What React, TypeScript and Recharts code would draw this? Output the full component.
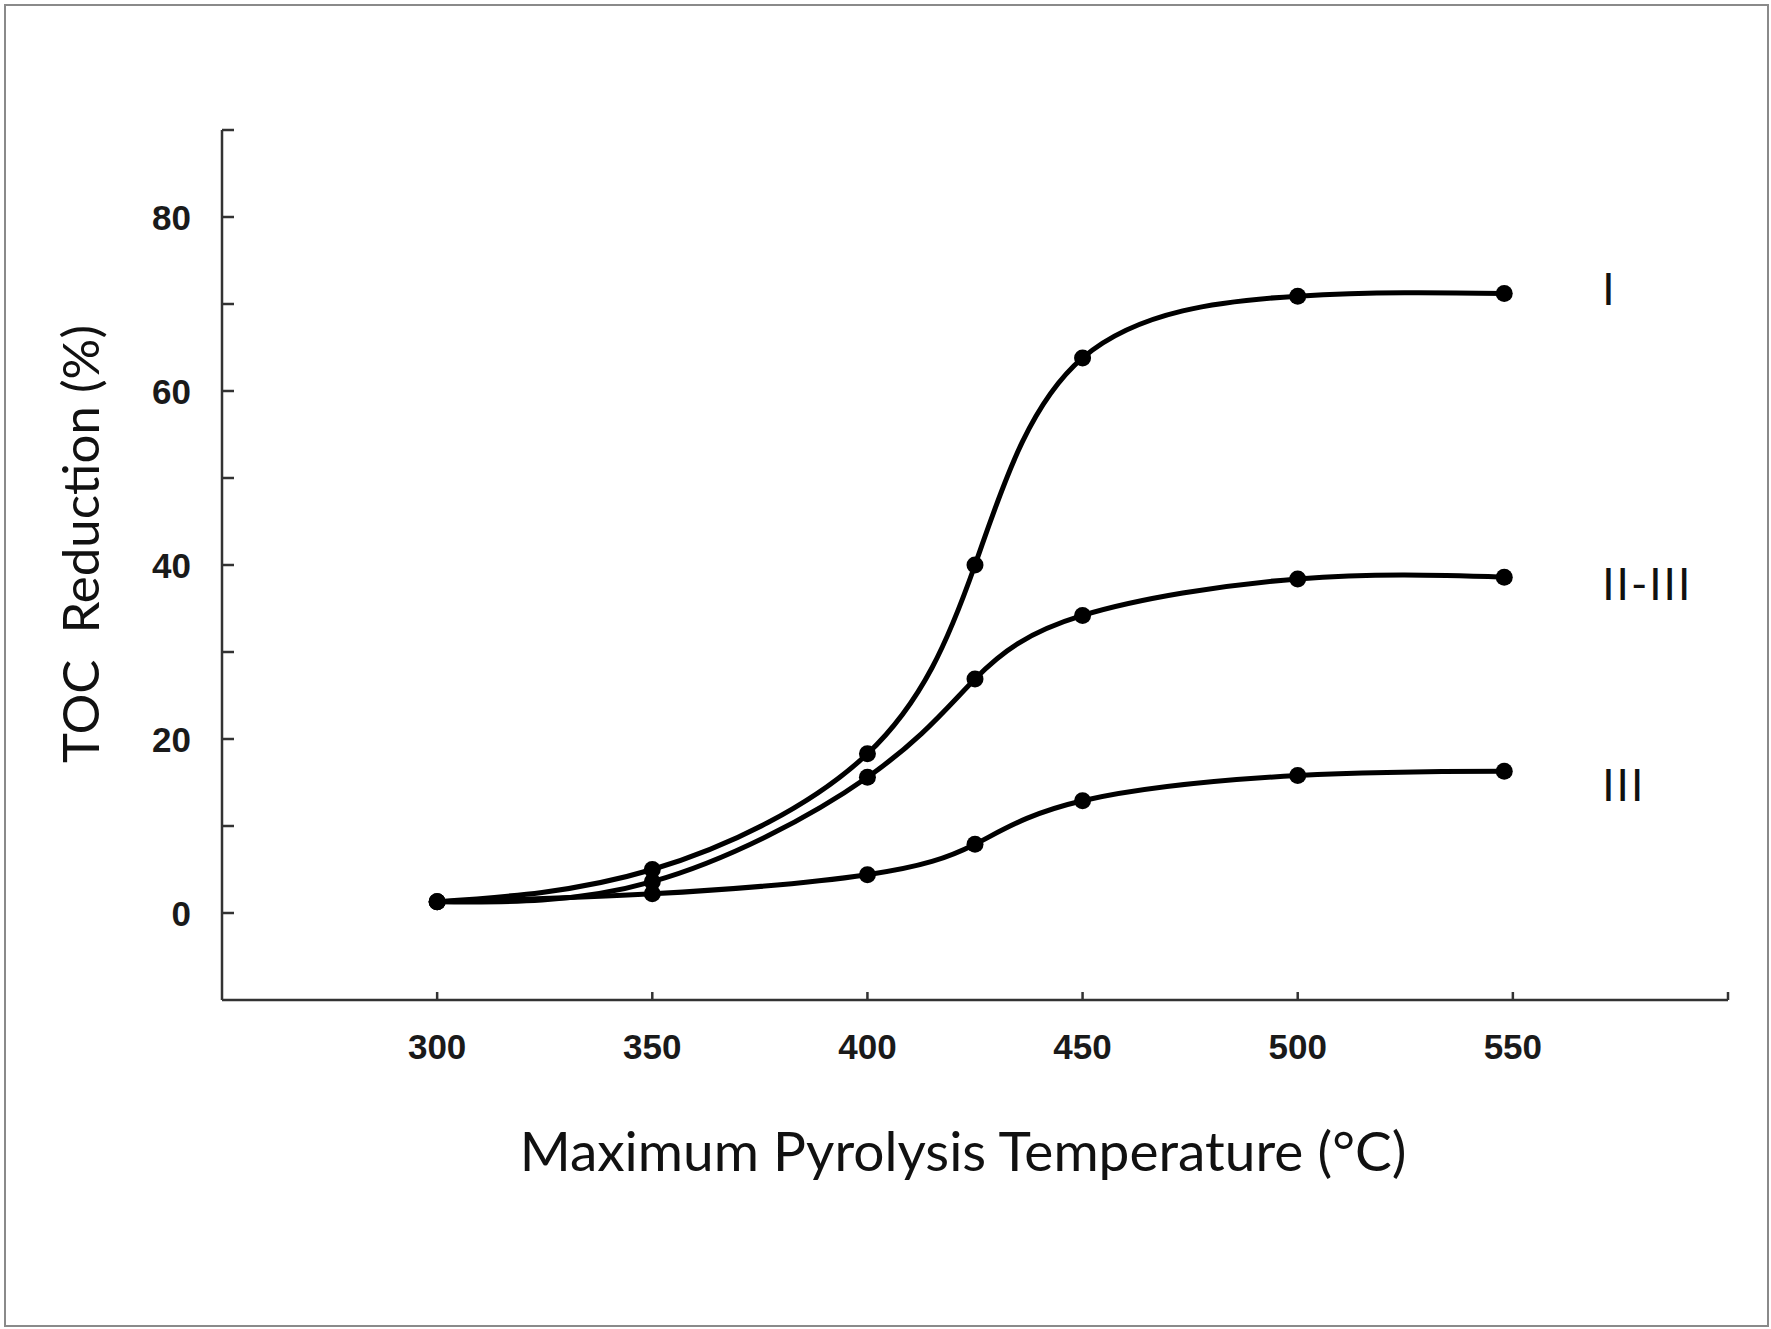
import { LabelList, Line, LineChart, XAxis, YAxis } from "recharts";

// pyrolysis temperatures (°C)
const temps = [300, 350, 400, 425, 450, 500, 548];

// TOC reduction (%) per kerogen type
const typeI = [1.3, 5.0, 18.3, 40.0, 63.8, 70.9, 71.2];
const typeIIIII = [1.3, 3.6, 15.6, 26.9, 34.2, 38.4, 38.6];
const typeIII = [1.3, 2.2, 4.4, 7.9, 12.9, 15.8, 16.3];

const seriesNames = ["I", "II-III", "III"];
const seriesKeys = ["typeI", "typeIIIII", "typeIII"];
// vertical nudge of the end-of-line labels
const labelDy = [-6, 6, 13];

const xTicks = [300, 350, 400, 450, 500, 550, 600];
const xTickLabels = ["300", "350", "400", "450", "500", "550", ""];
const yTicks = [0, 10, 20, 30, 40, 50, 60, 70, 80, 90];
const yTickLabels = ["0", "", "20", "", "40", "", "60", "", "80", ""];

const data = temps.map((t, i) => ({
  temp: t,
  typeI: typeI[i],
  typeIIIII: typeIIIII[i],
  typeIII: typeIII[i],
}));

const axisColor = "#333";
const tickFont = {
  fontFamily: '"Liberation Sans", Arial, sans-serif',
  fontWeight: 700,
  fontSize: 35,
  fill: "#1a1a1a",
};
const titleFont = {
  fontFamily: "Lato, sans-serif",
  fill: "#111",
};

const YTick = (props: any) => {
  const { x, y, payload } = props;
  const idx = yTicks.indexOf(payload.value);
  const axisX = x + 31;
  return (
    <g>
      <line x1={axisX} x2={axisX + 12} y1={y} y2={y} stroke={axisColor} strokeWidth={2.5} />
      <text x={x} y={y} textAnchor="end" dominantBaseline="central" {...tickFont}>
        {idx >= 0 ? yTickLabels[idx] : ""}
      </text>
    </g>
  );
};

const XTick = (props: any) => {
  const { x, y, payload } = props;
  const idx = xTicks.indexOf(payload.value);
  const axisY = y - 46;
  return (
    <g>
      <line x1={x} x2={x} y1={axisY} y2={axisY - 8} stroke={axisColor} strokeWidth={2.5} />
      <text x={x} y={y} textAnchor="middle" dominantBaseline="central" {...tickFont}>
        {idx >= 0 ? xTickLabels[idx] : ""}
      </text>
    </g>
  );
};

const endLabel = (s: number) => (props: any) => {
  const { x, y, index } = props;
  if (index !== temps.length - 1) return null;
  return (
    <text
      x={x + 98}
      y={y + labelDy[s]}
      dominantBaseline="central"
      fontFamily="Lato, sans-serif"
      fontSize={44}
      letterSpacing={2}
      fill="#111"
    >
      {seriesNames[s]}
    </text>
  );
};

export default function App() {
  return (
    <div style={{ position: "absolute", left: 0, top: 0, width: 1771, height: 1329, background: "#fff" }}>
      <LineChart
        width={1771}
        height={1329}
        data={data}
        margin={{ top: 130, right: 43, bottom: 229, left: 0 }}
      >
        <XAxis
          dataKey="temp"
          type="number"
          domain={[250, 600]}
          ticks={xTicks}
          height={100}
          tickSize={0}
          tickMargin={46}
          tickLine={false}
          axisLine={{ stroke: axisColor, strokeWidth: 2.5 }}
          tick={<XTick />}
          label={{
            content: (p: any) => {
              const vb = p.viewBox;
              return (
                <text
                  x={vb.x + vb.width / 2 - 12}
                  y={vb.y + 150}
                  textAnchor="middle"
                  dominantBaseline="central"
                  fontSize={55}
                  {...titleFont}
                >
                  Maximum Pyrolysis Temperature (°C)
                </text>
              );
            },
          }}
        />
        <YAxis
          type="number"
          domain={[-10, 90]}
          ticks={yTicks}
          width={222}
          tickSize={0}
          tickMargin={31}
          tickLine={false}
          axisLine={{ stroke: axisColor, strokeWidth: 2.5 }}
          tick={<YTick />}
          label={{
            content: (p: any) => {
              const vb = p.viewBox;
              const cx = 79;
              const cy = vb.y + vb.height / 2 - 21;
              return (
                <text
                  x={cx}
                  y={cy}
                  textAnchor="middle"
                  dominantBaseline="central"
                  transform={`rotate(-90 ${cx} ${cy})`}
                  style={{ whiteSpace: "pre" }}
                  fontSize={51}
                  {...titleFont}
                >
                  {"TOC  Reduction (%)"}
                </text>
              );
            },
          }}
        />
        {seriesKeys.map((k, s) => (
          <Line
            key={k}
            dataKey={k}
            name={seriesNames[s]}
            type="natural"
            stroke="#000"
            strokeWidth={5}
            dot={{ r: 8.5, fill: "#000", stroke: "none" }}
            activeDot={false}
            isAnimationActive={false}
          >
            <LabelList dataKey={k} content={endLabel(s)} />
          </Line>
        ))}
      </LineChart>
      <div
        style={{
          position: "absolute",
          left: 4,
          top: 4,
          width: 1765,
          height: 1323,
          border: "2px solid #8a8a8a",
          boxSizing: "border-box",
          pointerEvents: "none",
        }}
      />
    </div>
  );
}
